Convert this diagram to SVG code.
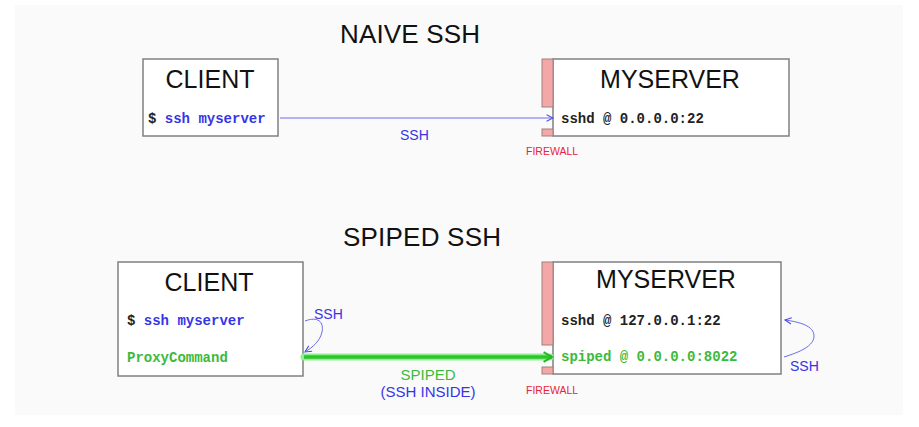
<svg xmlns="http://www.w3.org/2000/svg" width="919" height="427" viewBox="0 0 919 427">
  <style>
    .hand { font-family: "Liberation Sans", "DejaVu Sans", sans-serif; }
    .title { font-size: 26px; fill: #111; }
    .name { font-size: 25px; fill: #111; text-anchor: middle; }
    .code { font-family: "Liberation Mono", "DejaVu Sans Mono", monospace; font-size: 14px; font-weight: bold; }
    .box { fill: #ffffff; stroke: #808080; stroke-width: 1.5; }
    .fw { fill: #f3a7a7; stroke: #a08080; stroke-width: 1; }
    .fwlabel { font-size: 10.5px; fill: #e8243a; }
    .blue { fill: #3535e6; }
    .green { fill: #3cba3c; }
    .dark { fill: #222; }
    .lbl { font-size: 14px; }
    .lbl2 { font-size: 15px; }
  </style>
  <defs>
    <marker id="arrBlue" viewBox="0 0 10 10" refX="9" refY="5" markerWidth="8" markerHeight="8" orient="auto" markerUnits="userSpaceOnUse">
      <path d="M1,1 L9,5 L1,9" fill="none" stroke="#4a4ae8" stroke-width="1.3"/>
    </marker>
    <marker id="arrGreen" viewBox="0 0 10 10" refX="8" refY="5" markerWidth="12" markerHeight="12" orient="auto" markerUnits="userSpaceOnUse">
      <path d="M1,1 L8,5 L1,9" fill="none" stroke="#28b428" stroke-width="1.6"/>
    </marker>
  </defs>

  <!-- page background -->
  <rect x="0" y="0" width="919" height="427" fill="#ffffff"/>
  <rect x="15" y="5" width="888" height="410" fill="#fafafa"/>

  <!-- section titles -->
  <text class="hand title" x="340" y="43" textLength="140">NAIVE SSH</text>
  <text class="hand title" x="343" y="246" textLength="158">SPIPED SSH</text>

  <!-- naive: client -->
  <g id="naive-client">
    <rect class="box" x="143" y="59" width="135" height="77"/>
    <text class="hand name" x="210" y="88">CLIENT</text>
    <text class="code" x="148" y="123"><tspan class="dark">$</tspan><tspan class="blue"> ssh myserver</tspan></text>
  </g>

  <!-- naive: server -->
  <g id="naive-server">
    <rect class="box" x="553" y="59" width="236" height="77"/>
    <rect class="fw" x="542" y="59" width="11" height="48"/>
    <rect class="fw" x="542" y="129" width="11" height="7"/>
    <text class="hand name" x="670" y="88">MYSERVER</text>
    <text class="code dark" x="561" y="123">sshd @ 0.0.0.0:22</text>
    <text class="hand fwlabel" x="526" y="155">FIREWALL</text>
  </g>

  <!-- spiped: client -->
  <g id="spiped-client">
    <rect class="box" x="118" y="262" width="185" height="114"/>
    <text class="hand name" x="209" y="291">CLIENT</text>
    <text class="code" x="127" y="325"><tspan class="dark">$</tspan><tspan class="blue"> ssh myserver</tspan></text>
    <text class="code green" x="127" y="362">ProxyCommand</text>
  </g>

  <!-- spiped: server -->
  <g id="spiped-server">
    <rect class="box" x="553" y="262" width="228" height="112"/>
    <rect class="fw" x="542" y="262" width="11" height="83"/>
    <rect class="fw" x="542" y="367" width="11" height="7"/>
    <text class="hand name" x="666" y="288">MYSERVER</text>
    <text class="code dark" x="561" y="325">sshd @ 127.0.0.1:22</text>
    <text class="code green" x="561" y="361">spiped @ 0.0.0.0:8022</text>
    <text class="hand fwlabel" x="526" y="394">FIREWALL</text>
  </g>

  <!-- connectors -->
  <g id="connectors">
    <!-- naive ssh straight to sshd -->
    <path d="M280,118 L553,118" fill="none" stroke="#6a6aee" stroke-width="1" marker-end="url(#arrBlue)"/>
    <text class="hand lbl blue" x="400" y="140">SSH</text>

    <!-- client-side loop: ssh into ProxyCommand -->
    <path d="M305,321 C318,316 324,322 322,332 C320,341 313,347 305,352" fill="none" stroke="#6a6aee" stroke-width="1" marker-end="url(#arrBlue)"/>
    <text class="hand lbl blue" x="314" y="319">SSH</text>

    <!-- spiped tunnel -->
    <path d="M304,357 L550,357" fill="none" stroke="#8ef08e" stroke-width="7" stroke-linecap="round"/>
    <path d="M304,357 L552,357" fill="none" stroke="#2ec42e" stroke-width="3.5" marker-end="url(#arrGreen)"/>
    <text class="hand lbl2 green" x="428" y="380" text-anchor="middle">SPIPED</text>
    <text class="hand lbl2 blue" x="428" y="397" text-anchor="middle">(SSH INSIDE)</text>

    <!-- server-side loop: spiped to sshd -->
    <path d="M784,357 C800,352 814,346 814,336 C814,326 800,322 785,320" fill="none" stroke="#6a6aee" stroke-width="1" marker-end="url(#arrBlue)"/>
    <text class="hand lbl blue" x="790" y="371">SSH</text>
  </g>
</svg>
